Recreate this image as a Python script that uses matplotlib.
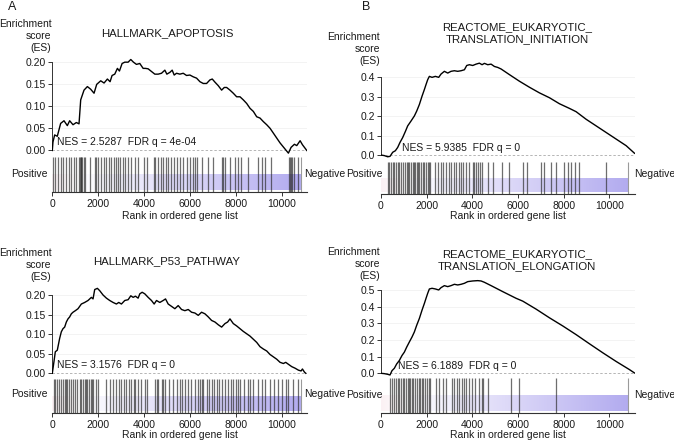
import numpy as np
import matplotlib
matplotlib.use("Agg")
import matplotlib.pyplot as plt
from matplotlib.colors import LinearSegmentedColormap

plt.rcParams['font.family'] = ['Liberation Sans', 'DejaVu Sans']

# ---------------- data ----------------
N_GENES = 11100
gradient_end = 10830
x_ticks = [0, 2000, 4000, 6000, 8000, 10000]

title_A1 = "HALLMARK_APOPTOSIS"
title_A2 = "HALLMARK_P53_PATHWAY"
title_B1 = "REACTOME_EUKARYOTIC_\nTRANSLATION_INITIATION"
title_B2 = "REACTOME_EUKARYOTIC_\nTRANSLATION_ELONGATION"

nes_A1 = "NES = 2.5287  FDR q = 4e-04"
nes_A2 = "NES = 3.1576  FDR q = 0"
nes_B1 = "NES = 5.9385  FDR q = 0"
nes_B2 = "NES = 6.1889  FDR q = 0"

yticks_A = [0.00, 0.05, 0.10, 0.15, 0.20]
yticks_B1 = [0.0, 0.1, 0.2, 0.3, 0.4]
yticks_B2 = [0.0, 0.1, 0.2, 0.3, 0.4, 0.5]

rank_A1 = [0, 29, 102, 218, 364, 510, 655, 757, 903, 1048, 1165, 1238, 1383, 1529, 1674,
           1820, 1936, 2111, 2257, 2402, 2519, 2606, 2723, 2839, 2927, 3043, 3160, 3305,
           3422, 3538, 3669, 3815, 3960, 4062, 4179, 4324, 4470, 4616, 4761, 4907, 4994,
           5125, 5227, 5314, 5416, 5562, 5708, 5853, 5999, 6144, 6290, 6436, 6581, 6727,
           6872, 6974, 7091, 7236, 7382, 7498, 7600, 7746, 7891, 8037, 8183, 8328, 8474,
           8620, 8765, 8911, 9056, 9202, 9348, 9493, 9639, 9784, 9930, 10119, 10294, 10410,
           10556, 10658, 10804, 10905, 11094]
es_A1 = [0.0, 0.019, 0.035, 0.032, 0.061, 0.067, 0.056, 0.067, 0.058, 0.063, 0.060, 0.114,
         0.136, 0.144, 0.138, 0.129, 0.149, 0.157, 0.152, 0.161, 0.155, 0.169, 0.172, 0.185,
         0.179, 0.196, 0.199, 0.199, 0.205, 0.199, 0.194, 0.196, 0.185, 0.185, 0.184, 0.178,
         0.172, 0.172, 0.174, 0.181, 0.172, 0.176, 0.181, 0.170, 0.174, 0.172, 0.174, 0.169,
         0.170, 0.166, 0.163, 0.155, 0.151, 0.151, 0.159, 0.161, 0.154, 0.146, 0.136, 0.142,
         0.142, 0.136, 0.129, 0.121, 0.121, 0.114, 0.106, 0.095, 0.088, 0.076, 0.073, 0.065,
         0.058, 0.050, 0.039, 0.028, 0.017, 0.005, -0.006, 0.007, 0.014, 0.011, 0.022, 0.013,
         0.0]

rank_A2 = [0, 73, 131, 218, 320, 393, 466, 539, 612, 684, 757, 830, 903, 1005, 1121, 1267,
           1412, 1558, 1703, 1776, 1849, 1966, 2068, 2213, 2359, 2504, 2650, 2796, 2897, 3014,
           3160, 3305, 3422, 3524, 3625, 3742, 3815, 3917, 4033, 4179, 4324, 4441, 4543, 4688,
           4834, 4936, 5052, 5198, 5344, 5489, 5635, 5780, 5926, 6072, 6217, 6363, 6508, 6654,
           6800, 6945, 7091, 7236, 7382, 7528, 7644, 7746, 7891, 8037, 8183, 8328, 8474, 8620,
           8765, 8911, 9056, 9202, 9348, 9493, 9639, 9784, 9930, 10075, 10177, 10294, 10439,
           10585, 10731, 10847, 10905, 10993, 11051]
es_A2 = [0.0, 0.030, 0.055, 0.059, 0.089, 0.106, 0.114, 0.118, 0.131, 0.139, 0.144, 0.152,
         0.156, 0.160, 0.165, 0.177, 0.181, 0.186, 0.194, 0.190, 0.214, 0.217, 0.211, 0.200,
         0.192, 0.186, 0.181, 0.177, 0.181, 0.177, 0.186, 0.188, 0.198, 0.194, 0.197, 0.192,
         0.203, 0.207, 0.203, 0.194, 0.186, 0.177, 0.186, 0.181, 0.186, 0.190, 0.177, 0.171,
         0.165, 0.173, 0.163, 0.160, 0.163, 0.156, 0.154, 0.148, 0.156, 0.152, 0.144, 0.135,
         0.131, 0.124, 0.118, 0.127, 0.131, 0.139, 0.127, 0.121, 0.114, 0.107, 0.101, 0.095,
         0.087, 0.079, 0.068, 0.062, 0.057, 0.048, 0.042, 0.036, 0.028, 0.025, 0.028, 0.023,
         0.017, 0.013, 0.008, 0.006, 0.011, 0.003, 0.0]

rank_B1 = [0, 146, 292, 394, 511, 628, 730, 832, 949, 1066, 1168, 1314, 1460, 1562, 1679,
           1796, 1898, 1971, 2044, 2117, 2234, 2380, 2526, 2628, 2774, 2920, 3066, 3212, 3358,
           3504, 3650, 3752, 3869, 4015, 4161, 4307, 4424, 4526, 4672, 4818, 4964, 5110, 5256,
           5621, 6059, 6497, 6935, 7373, 7811, 8249, 8541, 8979, 9417, 9855, 10293, 10731,
           11096]
es_B1 = [0.0, -0.003, -0.009, -0.007, 0.014, 0.022, 0.039, 0.065, 0.090, 0.121, 0.150, 0.175,
         0.201, 0.226, 0.260, 0.303, 0.337, 0.363, 0.388, 0.405, 0.400, 0.405, 0.400, 0.417,
         0.431, 0.422, 0.431, 0.434, 0.431, 0.434, 0.439, 0.461, 0.465, 0.461, 0.468, 0.473,
         0.465, 0.472, 0.465, 0.468, 0.456, 0.451, 0.443, 0.414, 0.380, 0.349, 0.320, 0.295,
         0.264, 0.240, 0.223, 0.184, 0.150, 0.116, 0.082, 0.048, 0.009]

rank_B2 = [0, 146, 292, 394, 482, 584, 686, 803, 920, 1022, 1124, 1241, 1358, 1460, 1562,
           1679, 1796, 1898, 1971, 2044, 2117, 2234, 2380, 2526, 2628, 2774, 2920, 3066, 3212,
           3358, 3504, 3650, 3796, 4015, 4234, 4380, 4526, 4818, 5329, 5913, 6205, 6789, 7373,
           7957, 8541, 9125, 9709, 10293, 10877, 11096]
es_B2 = [0.0, -0.002, -0.006, -0.010, 0.016, 0.030, 0.056, 0.077, 0.107, 0.127, 0.157, 0.188,
         0.218, 0.248, 0.288, 0.329, 0.379, 0.419, 0.450, 0.480, 0.506, 0.510, 0.506, 0.500,
         0.514, 0.526, 0.520, 0.526, 0.534, 0.530, 0.534, 0.540, 0.550, 0.554, 0.556, 0.554,
         0.546, 0.526, 0.490, 0.450, 0.433, 0.385, 0.333, 0.284, 0.232, 0.177, 0.123, 0.071,
         0.022, 0.002]

hits_A1 = [29, 131, 248, 364, 466, 612, 713, 801, 946, 1048, 1150, 1194, 1238, 1267, 1310,
           1369, 1441, 1631, 1878, 1922, 1995, 2111, 2257, 2359, 2461, 2577, 2694, 2796, 2868,
           2941, 3087, 3189, 3305, 3451, 3625, 3742, 4004, 4150, 4441, 4499, 4616, 4732, 4834,
           4936, 5052, 5169, 5314, 5416, 5562, 5708, 5853, 5999, 6144, 6217, 6319, 6537, 6770,
           7018, 7411, 7455, 7528, 7746, 7964, 8081, 8226, 8547, 8954, 9129, 9275, 9537, 10323,
           10367, 10410, 10468, 10556, 10731]
hits_A2 = [73, 131, 218, 277, 364, 466, 539, 612, 655, 713, 801, 903, 1005, 1092, 1194, 1267,
           1340, 1412, 1485, 1529, 1587, 1674, 1733, 1776, 1922, 1995, 2359, 2504, 2650, 2796,
           2897, 3014, 3130, 3232, 3334, 3422, 3567, 3625, 3742, 3888, 4033, 4150, 4470, 4543,
           4616, 4761, 4834, 4907, 5081, 5271, 5416, 5562, 5664, 5780, 5897, 6042, 6217, 6334,
           6436, 6508, 6581, 6727, 6829, 6945, 7062, 7164, 7265, 7382, 7528, 7673, 7790, 7891,
           7993, 8081, 8183, 8372, 8518, 8620, 8765, 8954, 9129, 9275, 9493, 9682, 9857, 10002,
           10177, 10294, 10512, 10731]
hits_B1 = [292, 365, 438, 511, 584, 657, 730, 803, 876, 949, 1066, 1124, 1197, 1241, 1314,
           1387, 1460, 1504, 1562, 1606, 1679, 1752, 1825, 1898, 1971, 2044, 2117, 2161, 2380,
           2482, 2628, 2701, 2847, 2964, 3066, 3212, 3285, 3431, 3504, 3606, 3723, 3869, 4015,
           4088, 4161, 4234, 4336, 4424, 4672, 4920, 5300, 5621, 6205, 6380, 7008, 7154, 7446,
           7665, 8030, 8176, 8322, 8512, 8687, 9855]
hits_B2 = [394, 482, 584, 657, 730, 803, 876, 949, 1022, 1095, 1168, 1241, 1285, 1358, 1416,
           1504, 1562, 1650, 1708, 1796, 1854, 1942, 2000, 2088, 2146, 2409, 2555, 2701, 2847,
           3110, 3212, 3314, 3431, 3548, 3650, 3723, 3840, 3986, 4132, 4307, 4424, 4482, 4672,
           5694, 6059, 7665]

# ---------------- layout (pixel boxes) ----------------
W, H = 674, 442
fig = plt.figure(figsize=(W / 100, H / 100), dpi=100)

def add_ax(l, t, r, b):
    return fig.add_axes([l / W, 1 - b / H, (r - l) / W, (b - t) / H])

def ftext(x, y, s, **kw):
    return fig.text(x / W, 1 - y / H, s, **kw)

TXT = '#1a1a1a'
FS = 7.5
cmap = LinearSegmentedColormap.from_list(
    'grad', [(0.0, '#fbf1f4'), (0.1, '#ffffff'), (0.5, '#dedaf8'), (1.0, '#b2abef')])

panels = [
    dict(title=title_A1, nes=nes_A1, rank=rank_A1, es=es_A1, hits=hits_A1, yt=yticks_A, fmt='{:.2f}',
         ylim=(-0.012, 0.212), x0=52.3, x1=306.9, es_tb=(56.4, 155.8), bar_tb=(157, 192),
         ylab=(51.5, 36), title_xy=(167, 33), nes_xy=(57, 142), pos=(47.5, 174), neg=(304, 174),
         xlab=(179.6, 216)),
    dict(title=title_B1, nes=nes_B1, rank=rank_B1, es=es_B1, hits=hits_B1, yt=yticks_B1, fmt='{:.1f}',
         ylim=(-0.02, 0.48), x0=381.0, x1=634.6, es_tb=(61.8, 158.9), bar_tb=(162, 194),
         ylab=(380, 49), title_xy=(517, 33), nes_xy=(402, 148), pos=(383, 174), neg=(634, 174),
         xlab=(507.8, 216)),
    dict(title=title_A2, nes=nes_A2, rank=rank_A2, es=es_A2, hits=hits_A2, yt=yticks_A, fmt='{:.2f}',
         ylim=(-0.011, 0.222), x0=52.3, x1=306.9, es_tb=(286.4, 377.6), bar_tb=(378.5, 412.7),
         ylab=(51.5, 265), title_xy=(167, 261), nes_xy=(57, 365), pos=(47.5, 394), neg=(304, 394),
         xlab=(179.6, 435)),
    dict(title=title_B2, nes=nes_B2, rank=rank_B2, es=es_B2, hits=hits_B2, yt=yticks_B2, fmt='{:.1f}',
         ylim=(-0.015, 0.57), x0=381.0, x1=634.6, es_tb=(278.3, 375.8), bar_tb=(378, 413),
         ylab=(380, 264), title_xy=(517, 260.5), nes_xy=(398, 366), pos=(383, 395), neg=(634, 395),
         xlab=(507.8, 435)),
]

grad = np.linspace(0, 1, 256)[None, :]

for p in panels:
    # ---- enrichment score axis ----
    ax = add_ax(p['x0'], p['es_tb'][0], p['x1'], p['es_tb'][1])
    for yv in p['yt'][1:]:
        ax.axhline(yv, color='#f1f1f1', lw=0.6, zorder=0)
    ax.axhline(0, color='#b5b5b5', lw=0.7, ls=(0, (2.5, 2)), zorder=1)
    ax.plot(p['rank'], p['es'], color='black', lw=1.0, zorder=3)
    ax.set_xlim(0, N_GENES)
    ax.set_ylim(*p['ylim'])
    for s in ['top', 'right', 'bottom']:
        ax.spines[s].set_visible(False)
    ax.spines['left'].set_bounds(p['yt'][0], p['yt'][-1])
    ax.spines['left'].set_linewidth(0.7)
    ax.spines['left'].set_color('#333333')
    ax.set_xticks([])
    ax.set_yticks(p['yt'])
    ax.set_yticklabels([p['fmt'].format(v) for v in p['yt']])
    ax.tick_params(axis='y', length=3, width=0.7, pad=1.5, labelsize=FS,
                   colors='#333333', labelcolor=TXT)
    ax.patch.set_alpha(0)

    # ---- barcode axis ----
    bx = add_ax(p['x0'], p['bar_tb'][0], p['x1'], p['bar_tb'][1])
    bx.imshow(grad, cmap=cmap, extent=(0, gradient_end, 0.06, 0.49), aspect='auto',
              interpolation='bilinear', zorder=0)
    bx.vlines(p['hits'], 0, 1, color='#2a2a2a', lw=0.9, alpha=0.68, zorder=2)
    bx.vlines([gradient_end], 0, 1, color='#9a9a9a', lw=0.8, zorder=2)
    bx.set_xlim(0, N_GENES)
    bx.set_ylim(0, 1)
    for s in ['top', 'right', 'left']:
        bx.spines[s].set_visible(False)
    bx.spines['bottom'].set_linewidth(0.8)
    bx.spines['bottom'].set_color('#333333')
    bx.set_yticks([])
    bx.set_xticks(x_ticks)
    bx.set_xticklabels([str(v) for v in x_ticks])
    bx.tick_params(axis='x', length=3, width=0.7, pad=2, labelsize=FS,
                   colors='#333333', labelcolor=TXT)

    # ---- texts ----
    ftext(p['ylab'][0], p['ylab'][1], "Enrichment\nscore\n(ES)", ha='right', va='center',
          ma='right', fontsize=FS, color=TXT, linespacing=1.2)
    ftext(p['title_xy'][0], p['title_xy'][1], p['title'], ha='center', va='center',
          fontsize=8.2, color=TXT, linespacing=1.25)
    ftext(p['nes_xy'][0], p['nes_xy'][1], p['nes'], ha='left', va='center',
          fontsize=FS, color=TXT)
    ftext(p['pos'][0], p['pos'][1], "Positive", ha='right', va='center', fontsize=FS, color=TXT)
    ftext(p['neg'][0], p['neg'][1], "Negative", ha='left', va='center', fontsize=FS, color=TXT)
    ftext(p['xlab'][0], p['xlab'][1], "Rank in ordered gene list", ha='center', va='center',
          fontsize=FS, color=TXT)

ftext(12, 7, "A", ha='center', va='center', fontsize=9, color=TXT)
ftext(366.5, 7, "B", ha='center', va='center', fontsize=9, color=TXT)

fig.savefig("out.png", dpi=100)
